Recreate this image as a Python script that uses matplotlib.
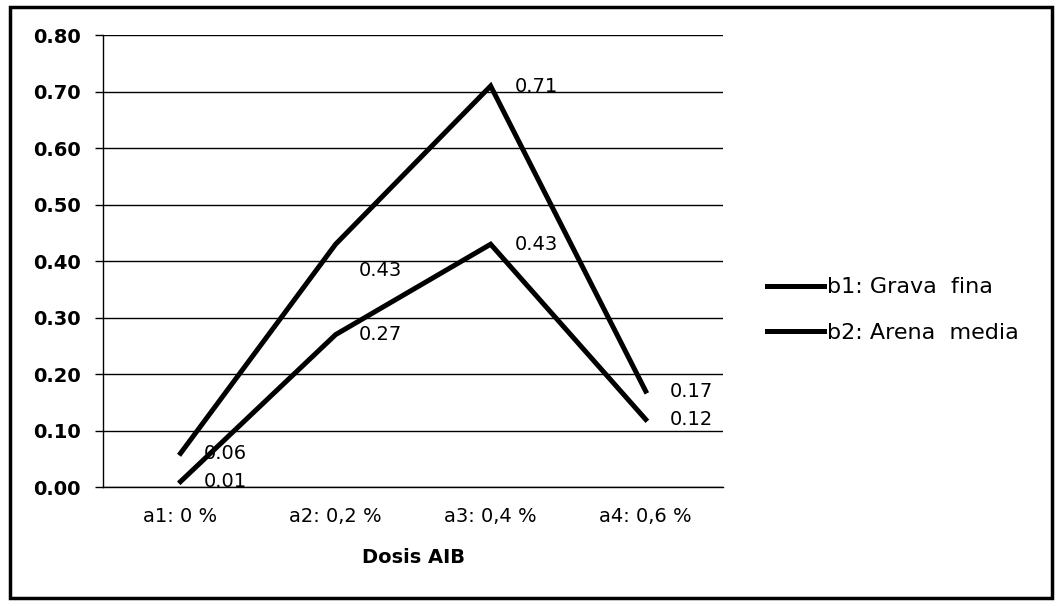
import matplotlib.pyplot as plt
from matplotlib.patches import Rectangle

dosis = ["a1: 0 %", "a2: 0,2 %", "a3: 0,4 %", "a4: 0,6 %"]
grava_fina = [0.06, 0.43, 0.71, 0.17]
arena_media = [0.01, 0.27, 0.43, 0.12]
yticks = [0.0, 0.1, 0.2, 0.3, 0.4, 0.5, 0.6, 0.7, 0.8]

plt.rcParams["font.family"] = ["DejaVu Sans"]

fig = plt.figure(figsize=(10.62, 6.06), dpi=100)
ax = fig.add_axes([0.097, 0.196, 0.584, 0.746])

x = range(len(dosis))
ax.plot(x, grava_fina, color="black", lw=3.6, label="b1: Grava  fina",
        solid_joinstyle="miter", zorder=3)
ax.plot(x, arena_media, color="black", lw=3.6, label="b2: Arena  media",
        solid_joinstyle="miter", zorder=3)

# value labels to the right of each point
for i, v in enumerate(grava_fina):
    dy = -19 if i == 1 else 0
    ax.annotate(f"{v:.2f}", (i, v), xytext=(17, dy), textcoords="offset points",
                ha="left", va="center", fontsize=14)
for i, v in enumerate(arena_media):
    ax.annotate(f"{v:.2f}", (i, v), xytext=(17, 0), textcoords="offset points",
                ha="left", va="center", fontsize=14)

ax.set_xlim(-0.5, 3.5)
ax.set_ylim(0, 0.8)
ax.set_yticks(yticks)
ax.set_yticklabels([f"{t:.2f}" for t in yticks], fontsize=14, fontweight="bold")
ax.set_xticks(list(x))
ax.set_xticklabels(dosis, fontsize=14)
ax.tick_params(axis="x", length=0, pad=14)
ax.tick_params(axis="y", length=6, width=1, pad=10)
ax.grid(axis="y", color="black", lw=1)
ax.set_axisbelow(True)
for s in ("top", "right"):
    ax.spines[s].set_visible(False)
for s in ("left", "bottom"):
    ax.spines[s].set_linewidth(1)
ax.set_xlabel("Dosis AIB", fontsize=14, fontweight="bold", labelpad=16)

fig.legend(loc="center left", bbox_to_anchor=(0.703, 0.488), frameon=False,
           fontsize=16, handlelength=2.6, handletextpad=0.12, labelspacing=1.15)

fig.patches.append(Rectangle((0.009, 0.013), 0.982, 0.975, transform=fig.transFigure,
                             fill=False, edgecolor="black", lw=2.5))

fig.savefig("out.png", dpi=100)
